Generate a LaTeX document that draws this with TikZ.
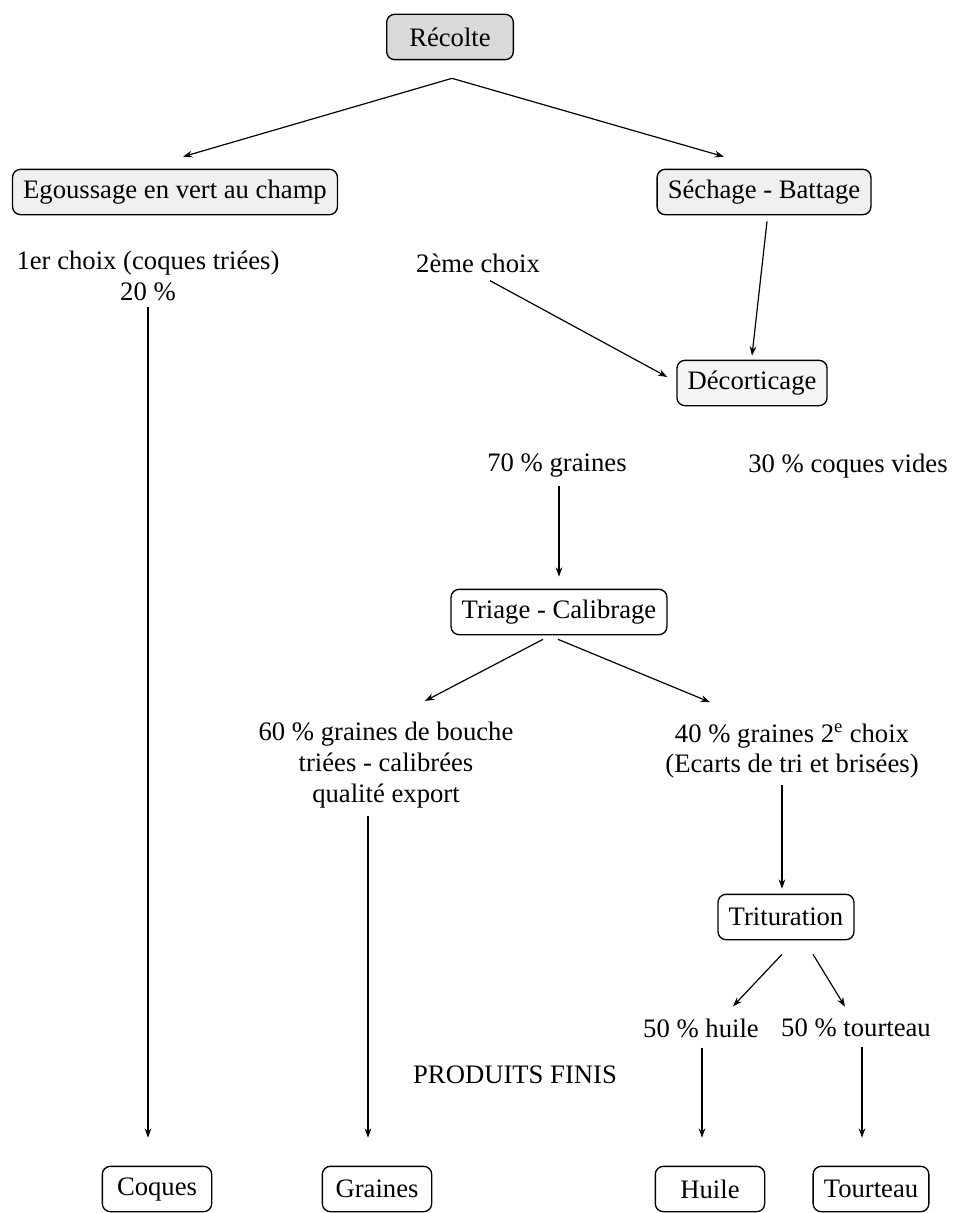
\documentclass[tikz,border=0pt]{standalone}
\usepackage{fontspec}
\setmainfont{Liberation Serif}
\usetikzlibrary{arrows.meta,calc}

\begin{document}
\begin{tikzpicture}[x=0.75pt,y=-0.75pt,
    font=\fontsize{20}{23}\selectfont,
    etape/.style={draw,rounded corners=6pt,line width=1pt,inner xsep=8pt,
      minimum height=34pt,minimum width=82pt},
    texte/.style={align=center,inner sep=0pt},
    fleche/.style={-{Stealth[length=7pt,width=5pt]},line width=0.9pt}]
  \useasboundingbox (0,0) rectangle (953,1213);
  % etapes
  \node [etape,fill=gray!30,minimum width=95pt] (recolte) at (450,37) {Récolte};
  \node [etape,fill=gray!12] (egouss) at (175,192) {Egoussage en vert au champ};
  \node [etape,fill=gray!12] (sechage) at (764,192) {Séchage - Battage};
  \node [etape,fill=gray!8] (decort) at (752,383) {Décorticage};
  \node [etape] (triage) at (559,612) {Triage - Calibrage};
  \node [etape] (trit) at (786,917) {Trituration};
  % textes
  \node [texte] (choix1) at (148,276) {1er choix (coques triées)\\20 \%};
  \node [texte] (choix2) at (478,263) {2ème choix};
  \node [texte] (graines70) at (557,466) {70 \% graines};
  \node [texte] (coques30) at (848,466) {30 \% coques vides};
  \node [texte] (bouche) at (386,765) {60 \% graines de bouche\\triées - calibrées\\qualité export};
  \node [texte] (choix2e) at (792,751) {40 \% graines 2\textsuperscript{e} choix\\(Ecarts de tri et brisées)};
  \node [texte] (huile50) at (701,1028) {50 \% huile};
  \node [texte] (tourt50) at (856,1028) {50 \% tourteau};
  \node [texte] (produits) at (515,1075) {PRODUITS FINIS};
  % produits finis
  \node [etape] (coques) at (157,1189) {Coques};
  \node [etape] (graines) at (377,1189) {Graines};
  \node [etape] (huile) at (710,1189) {Huile};
  \node [etape] (tourteau) at (871,1189) {Tourteau};
  % fleches
  \draw [fleche] ($(recolte.south)+(2,18)$) -- ($(egouss.north)+(8,-12)$);
  \draw [fleche] ($(recolte.south)+(2,18)$) -- ($(sechage.north)+(-40,-12)$);
  \draw [fleche] ($(sechage.south)+(3,6)$) -- ($(decort.north)+(0,-4)$);
  \draw [fleche] ($(choix2.south)+(12,8)$) -- ($(decort.west)+(-9,-6)$);
  \draw [fleche] ($(choix1.south)+(0,6)$) -- ($(coques.north)+(-9,-28)$);
  \draw [fleche] ($(graines70.south)+(2,8)$) -- ($(triage.north)+(0,-12)$);
  \draw [fleche] ($(triage.south)+(-16,4)$) -- ($(bouche.north)+(39,-21)$);
  \draw [fleche] ($(triage.south)+(-1,4)$) -- ($(choix2e.north)+(-82,-21)$);
  \draw [fleche] ($(choix2e.south)+(-10,6)$) -- ($(trit.north)+(-4,-5)$);
  \draw [fleche] ($(trit.south)+(-4,14)$) -- ($(huile50.north)+(32,-12)$);
  \draw [fleche] ($(trit.south)+(27,14)$) -- ($(tourt50.north)+(-11,-12)$);
  \draw [fleche] ($(bouche.south)+(-18,8)$) -- ($(graines.north)+(-9,-28)$);
  \draw [fleche] ($(huile50.south)+(1,10)$) -- ($(huile.north)+(-8,-28)$);
  \draw [fleche] ($(tourt50.south)+(6,10)$) -- ($(tourteau.north)+(-9,-28)$);
\end{tikzpicture}
\end{document}
